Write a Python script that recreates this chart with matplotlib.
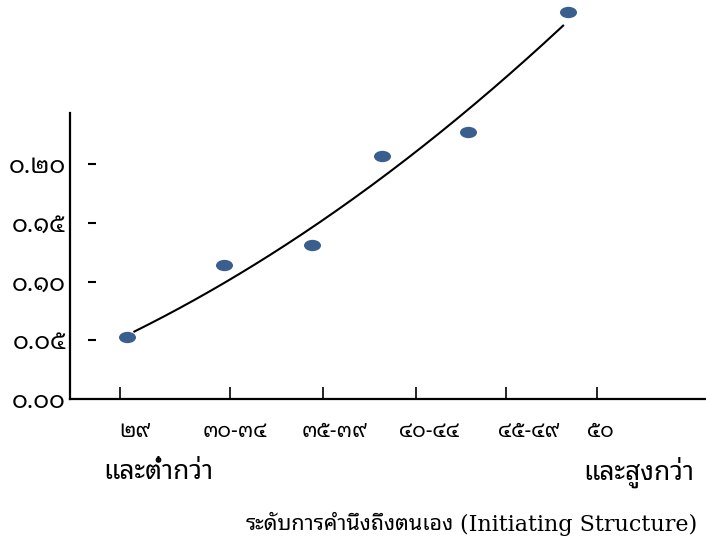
import numpy as np
import matplotlib

matplotlib.use("Agg")
import matplotlib.pyplot as plt
import matplotlib.transforms as mtransforms
from matplotlib import font_manager
from matplotlib.path import Path
from fontTools.ttLib import TTFont

# x positions are in "slot" units (one slot ~ 92 px of the axis)
tick_pos = [0.54, 1.74, 2.75, 3.76, 4.74, 5.73]
tick_top = ["๒๙", "๓๐-๓๔", "๓๕-๓๙", "๔๐-๔๔", "๔๕-๔๙", "๕๐"]
tick_bottom = ["และต่ำกว่า", "และสูงกว่า"]

y_ticks = [0.00, 0.05, 0.10, 0.15, 0.20]
y_labels = ["๐.๐๐", "๐.๐๕", "๐.๑๐", "๐.๑๕", "๐.๒๐"]

point_x = [0.62, 1.67, 2.63, 3.39, 4.33, 5.41]
point_y = [0.053, 0.114, 0.131, 0.207, 0.227, 0.329]

# samples of the trend line
trend_x = [0.70, 1.16, 1.63, 2.07, 2.50, 3.04, 3.59, 4.13, 4.46, 4.92, 5.36]
trend_y = [0.057, 0.078, 0.095, 0.116, 0.140, 0.169, 0.201, 0.235, 0.254, 0.283, 0.320]

x_title_th = "ระดับการคำนึงถึงตนเอง"
x_title_en = "(Initiating Structure)"


def find_thai_fonts():
    names = []
    for f in font_manager.findSystemFonts():
        try:
            cmap = TTFont(f, fontNumber=0, lazy=True).getBestCmap()
        except Exception:
            continue
        if cmap and 0x0E01 in cmap and 0x0E52 in cmap:
            font_manager.fontManager.addfont(f)
            names.append(font_manager.FontProperties(fname=f).get_name())
    return sorted(set(names))


thai = find_thai_fonts()
TH = "Noto Sans Thai Looped" if "Noto Sans Thai Looped" in thai else thai[0]
plt.rcParams["font.family"] = [TH, "DejaVu Sans"]
plt.rcParams["font.weight"] = "light"

fig = plt.figure(figsize=(7.06, 5.58), dpi=100)
ax = fig.add_axes([70 / 706, 159 / 558, 636 / 706, 286 / 558])

ax.set_xlim(0, 636 / 92)
ax.set_ylim(0, 286 / 1175)

for s in ["top", "right"]:
    ax.spines[s].set_visible(False)
for s in ["left", "bottom"]:
    ax.spines[s].set_linewidth(1.6)

# smooth polynomial trend through the read samples
coef = np.polyfit(trend_x, trend_y, 2)
tx = np.linspace(trend_x[0], trend_x[-1], 200)
ax.plot(tx, np.polyval(coef, tx), color="black", lw=1.5, clip_on=False, zorder=2)

oval = Path.unit_circle().transformed(mtransforms.Affine2D().scale(1.5, 1.0))
ax.scatter(point_x, point_y, marker=oval, s=150, color="#3a5e8e",
           clip_on=False, zorder=3, linewidths=0)

ax.set_xticks(tick_pos)
ax.set_xticklabels([])
ax.tick_params(axis="x", direction="in", length=9, width=1.2)

ax.set_yticks(y_ticks)
ax.set_yticklabels(y_labels, fontsize=17.5)
ax.tick_params(axis="y", length=0, pad=3)

trans = mtransforms.blended_transform_factory(ax.transAxes, ax.transData)
ax.plot([0.035] * 4, y_ticks[1:], ls="none", marker="_", ms=6, mew=1.5,
        color="black", transform=trans, clip_on=False)

xt = mtransforms.blended_transform_factory(ax.transData, ax.transAxes)
label_x = [0.70, 1.79, 2.87, 3.90, 4.99, 5.77]
for lx, top in zip(label_x, tick_top):
    ax.text(lx, -0.115, top, transform=xt, ha="center", va="center", fontsize=15)

ax.text(0.36, -0.255, tick_bottom[0], ha="left", va="center", fontsize=19, transform=xt)
ax.text(6.79, -0.255, tick_bottom[1], ha="right", va="center", fontsize=19, transform=xt)

en = fig.text(697 / 706, 1 - 525 / 558, x_title_en, ha="right", va="center",
              fontsize=16, family="DejaVu Serif", fontweight="normal")
r = fig.canvas.get_renderer()
en_left = en.get_window_extent(r).x0
fig.text((en_left - 6) / 706, 1 - 525 / 558, x_title_th, ha="right", va="center",
         fontsize=15.5)

fig.savefig("out.png", dpi=100)
